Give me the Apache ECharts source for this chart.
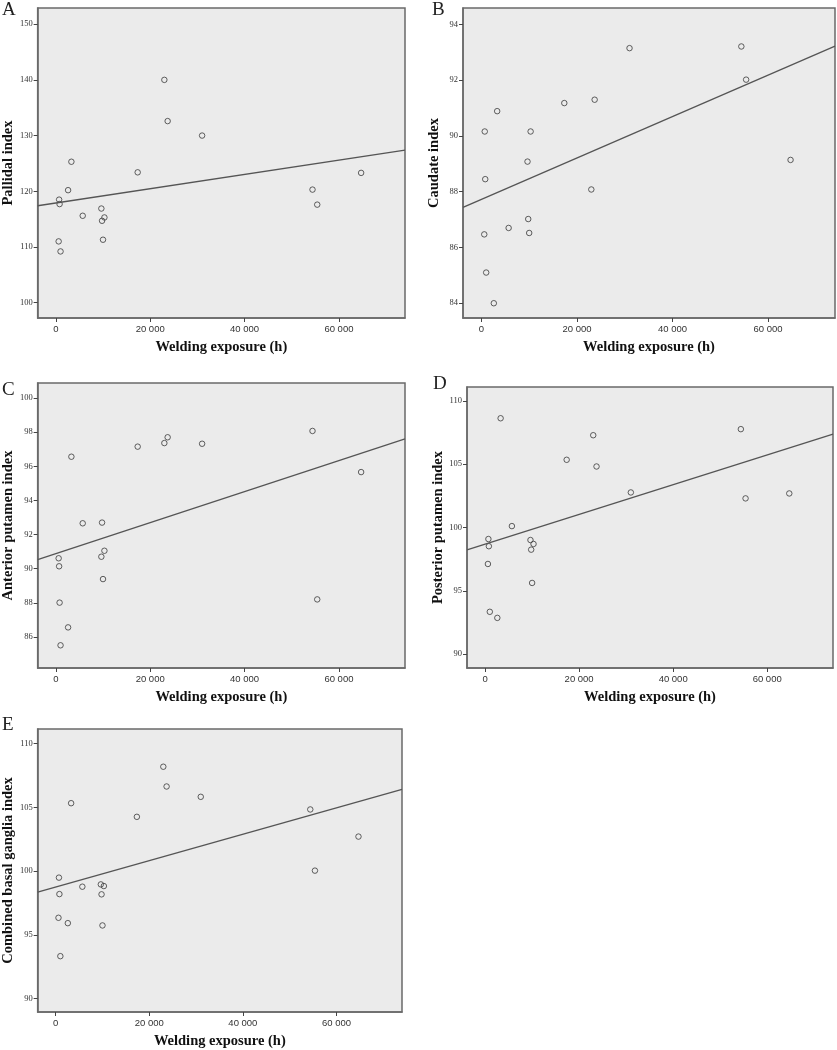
<!DOCTYPE html>
<html>
<head>
<meta charset="utf-8">
<script src="https://cdn.jsdelivr.net/npm/echarts@6/dist/echarts.min.js"></script>
<style>
html,body{margin:0;padding:0;background:#fff;}
#chart{width:837px;height:1050px;}
</style>
</head>
<body>
<div id="chart"></div>
<script>
// Welding exposure (h), shared by all panels
var exposure = [600, 700, 800, 1000, 2600, 3300, 5700, 9650, 9800, 10000, 10300, 17350, 23000, 23700, 31000, 54400, 55400, 64700];
// Panel values
var pallidal = [111.0, 118.5, 117.7, 109.2, 120.2, 125.3, 115.6, 116.9, 114.7, 111.3, 115.3, 123.4, 140.0, 132.6, 130.0, 120.3, 117.6, 123.3];
var caudate = [86.47, 90.16, 88.45, 85.10, 84.0, 90.89, 86.70, 89.08, 87.02, 86.52, 90.16, 91.18, 88.08, 91.30, 93.15, 93.21, 92.02, 89.14];
var antPutamen = [90.61, 90.14, 88.01, 85.51, 86.56, 96.56, 92.66, 90.70, 92.70, 89.39, 91.05, 97.15, 97.36, 97.70, 97.32, 98.07, 88.20, 95.66];
var postPutamen = [97.12, 99.09, 98.52, 93.34, 92.86, 108.63, 100.11, 99.01, 98.25, 95.62, 98.70, 105.35, 107.29, 104.82, 102.77, 107.77, 102.30, 102.69];
var combined = [96.34, 99.49, 98.20, 93.33, 95.92, 105.33, 98.78, 98.96, 98.18, 95.74, 98.83, 104.26, 108.19, 106.64, 105.83, 104.84, 100.04, 102.71];
// Fit lines (values at the left and right edges of the x range)
var fitX = [-3850, 74000];
var fitPallidal = [117.4, 127.4];
var fitCaudate = [87.44, 93.22];
var fitAntPutamen = [90.53, 97.6];
var fitPostPutamen = [98.23, 107.37];
var fitCombined = [98.36, 106.41];
// Tick values / labels
var xTicks = [0, 20000, 40000, 60000];
var xTickLabels = ['0', '20 000', '40 000', '60 000'];
var yTicksA = [100, 110, 120, 130, 140, 150];
var yTicksB = [84, 86, 88, 90, 92, 94];
var yTicksC = [86, 88, 90, 92, 94, 96, 98, 100];
var yTicksD = [90, 95, 100, 105, 110];
var yTicksE = [90, 95, 100, 105, 110];
var panelLetters = ['A', 'B', 'C', 'D', 'E'];
var yTitles = ['Pallidal index', 'Caudate index', 'Anterior putamen index', 'Posterior putamen index', 'Combined basal ganglia index'];
var xTitle = 'Welding exposure (h)';

var panels = [
  {ys: pallidal, fit: fitPallidal, ticks: yTicksA, min: 97.25, max: 152.9, grid: {left: 37, top: 8, width: 368, height: 310}, letter: [2, 1]},
  {ys: caudate, fit: fitCaudate, ticks: yTicksB, min: 83.47, max: 94.59, grid: {left: 463, top: 8, width: 372, height: 310}, letter: [432, 1]},
  {ys: antPutamen, fit: fitAntPutamen, ticks: yTicksC, min: 84.18, max: 100.88, grid: {left: 37, top: 383, width: 368, height: 285}, letter: [2, 381]},
  {ys: postPutamen, fit: fitPostPutamen, ticks: yTicksD, min: 88.9, max: 111.1, grid: {left: 467, top: 387, width: 366, height: 281}, letter: [433, 375]},
  {ys: combined, fit: fitCombined, ticks: yTicksE, min: 88.95, max: 111.15, grid: {left: 37, top: 729, width: 365, height: 283}, letter: [2, 716]}
];

var grids = [], xAxes = [], yAxes = [], series = [], graphics = [];
panels.forEach(function (p, i) {
  grids.push(Object.assign({show: true, backgroundColor: '#ebebeb', borderColor: '#6a6a6a', borderWidth: 1.5, containLabel: false}, p.grid));
  xAxes.push({
    type: 'value', gridIndex: i, min: fitX[0], max: fitX[1],
    name: xTitle, nameLocation: 'middle', nameGap: 22,
    nameTextStyle: {fontFamily: 'Liberation Serif', fontWeight: 'bold', fontSize: 14.5, color: '#111'},
    axisLine: {show: true, onZero: false, lineStyle: {color: '#6a6a6a', width: 1.5}},
    axisTick: {show: true, length: 4, lineStyle: {color: '#444', width: 1}, customValues: xTicks},
    axisLabel: {show: true, margin: 6, fontFamily: 'Liberation Sans', fontSize: 9.5, color: '#333',
      customValues: xTicks, formatter: function (v) { return xTickLabels[xTicks.indexOf(v)]; }},
    splitLine: {show: false}
  });
  yAxes.push({
    type: 'value', gridIndex: i, min: p.min, max: p.max,
    name: yTitles[i], nameLocation: 'middle', nameGap: 21,
    nameTextStyle: {fontFamily: 'Liberation Serif', fontWeight: 'bold', fontSize: 14.5, color: '#111'},
    axisLine: {show: true, onZero: false, lineStyle: {color: '#6a6a6a', width: 1.5}},
    axisTick: {show: true, length: 4, lineStyle: {color: '#444', width: 1}, customValues: p.ticks},
    axisLabel: {show: true, margin: 5, fontFamily: 'Liberation Serif', fontSize: 8.5, color: '#333',
      customValues: p.ticks, formatter: function (v) { return String(v); }},
    splitLine: {show: false}
  });
  series.push({
    type: 'line', xAxisIndex: i, yAxisIndex: i, symbol: 'none', silent: true,
    lineStyle: {color: '#555', width: 1.3},
    data: fitX.map(function (x, k) { return [x, p.fit[k]]; })
  });
  series.push({
    type: 'scatter', xAxisIndex: i, yAxisIndex: i, symbol: 'circle', symbolSize: 5.5,
    itemStyle: {color: 'rgba(0,0,0,0)', borderColor: '#3a3a3a', borderWidth: 1},
    data: exposure.map(function (x, k) { return [x, p.ys[k]]; })
  });
  graphics.push({
    type: 'text', left: p.letter[0], top: p.letter[1],
    style: {text: panelLetters[i], fontFamily: 'Liberation Serif', fontSize: 19, fill: '#222'}
  });
});

var chart = echarts.init(document.getElementById('chart'), null, {renderer: 'canvas'});
chart.setOption({
  animation: false,
  grid: grids, xAxis: xAxes, yAxis: yAxes, series: series, graphic: graphics
});
</script>
</body>
</html>
